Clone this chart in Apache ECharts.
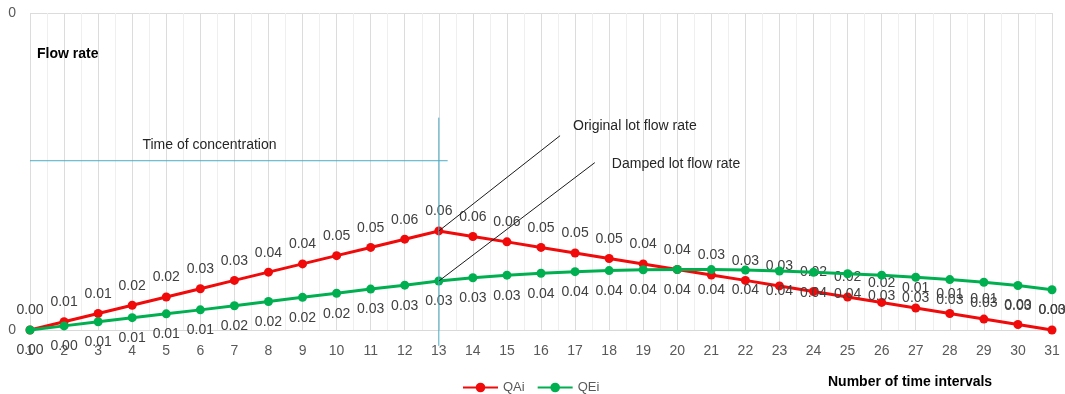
<!DOCTYPE html>
<html>
<head>
<meta charset="utf-8">
<script src="https://cdn.jsdelivr.net/npm/echarts@6/dist/echarts.min.js"></script>
<style>
  html, body { margin: 0; padding: 0; background: #fff; }
  #main { width: 1065px; height: 394px; }
</style>
</head>
<body>
<div id="main"></div>
<script>
// time interval numbers
const intervals = [1, 2, 3, 4, 5, 6, 7, 8, 9, 10, 11, 12, 13, 14, 15, 16,
  17, 18, 19, 20, 21, 22, 23, 24, 25, 26, 27, 28, 29, 30, 31];

// original lot flow rate
const qai = [0, 0.0052, 0.0104, 0.0156, 0.0208, 0.026, 0.0313, 0.0365, 0.0417,
  0.0469, 0.0521, 0.0573, 0.0625, 0.059, 0.0556, 0.0521, 0.0486, 0.0451, 0.0417,
  0.0382, 0.0347, 0.0313, 0.0278, 0.0243, 0.0208, 0.0174, 0.0139, 0.0104,
  0.0069, 0.0035, 0];

// damped lot flow rate
const qei = [0, 0.0026, 0.0052, 0.0078, 0.0102, 0.0127, 0.0153, 0.018, 0.0206,
  0.0232, 0.0258, 0.0283, 0.0309, 0.033, 0.0346, 0.0358, 0.0368, 0.0375, 0.038,
  0.0382, 0.0381, 0.0378, 0.0372, 0.0364, 0.0355, 0.0346, 0.0333, 0.0318,
  0.0301, 0.0281, 0.0254];

// annotation guides, in data space [interval, flow]
const concLine = [[13, 0.134], [13, -0.01]];
const concHoriz = [[1, 0.1068], [13.26, 0.1068]];
const origPointer = [[13, 0.0625], [16.56, 0.1226]];
const dampPointer = [[13, 0.0309], [17.58, 0.1056]];

const chart = echarts.init(document.getElementById('main'));

const font = 'Liberation Sans, Arial, sans-serif';
const red = '#f00a0a';
const green = '#00b050';
const blue = '#4bacc6';

let option = {
  animation: false,
  textStyle: { fontFamily: font },
  grid: { left: 30, right: 13, top: 13, bottom: 64 },
  legend: {
    left: 457,
    top: 376,
    itemWidth: 35,
    itemHeight: 12,
    itemGap: 12,
    textStyle: { fontSize: 13, color: '#595959', fontFamily: font },
    data: ['QAi', 'QEi']
  },
  xAxis: {
    type: 'value',
    min: 1,
    max: 31,
    interval: 1,
    axisLine: { lineStyle: { color: '#d9d9d9' } },
    axisTick: { show: false },
    axisLabel: { color: '#595959', fontSize: 14, margin: 14 },
    splitLine: { show: true, lineStyle: { color: '#dcdcdc' } },
    minorTick: { show: false, splitNumber: 2 },
    minorSplitLine: { show: true, lineStyle: { color: '#efefef' } }
  },
  yAxis: {
    type: 'value',
    min: 0,
    max: 0.2,
    interval: 0.2,
    axisLine: { show: false },
    axisTick: { show: false },
    axisLabel: { color: '#595959', fontSize: 14, margin: 14, formatter: v => v.toFixed(0) },
    splitLine: { lineStyle: { color: '#dcdcdc' } }
  },
  series: [
    {
      name: 'QAi',
      type: 'line',
      data: intervals.map((x, i) => [x, qai[i]]),
      symbol: 'circle',
      symbolSize: 9,
      lineStyle: { color: red, width: 3 },
      itemStyle: { color: red },
      label: {
        show: true, position: 'top', distance: 8,
        color: '#404040', fontSize: 14,
        formatter: p => p.value[1].toFixed(2)
      },
      z: 3
    },
    {
      name: 'QEi',
      type: 'line',
      data: intervals.map((x, i) => [x, qei[i]]),
      symbol: 'circle',
      symbolSize: 9,
      lineStyle: { color: green, width: 3 },
      itemStyle: { color: green },
      label: {
        show: true, position: 'bottom', distance: 9,
        color: '#404040', fontSize: 14,
        formatter: p => p.value[1].toFixed(2)
      },
      z: 4
    }
  ]
};

chart.setOption(option);

// annotations placed through the chart's own scales
const px = pt => chart.convertToPixel({ gridIndex: 0 }, pt);
const seg = (pts, color) => {
  const a = px(pts[0]), b = px(pts[1]);
  return {
    type: 'line', silent: true, z: 10,
    shape: { x1: a[0], y1: a[1], x2: b[0], y2: b[1] },
    style: { stroke: color, lineWidth: 1 }
  };
};
const txt = (pt, text, style) => {
  const p = px(pt);
  return {
    type: 'text', silent: true, z: 10, x: p[0], y: p[1],
    style: Object.assign({ text: text, fill: '#262626', font: '14px ' + font, textVerticalAlign: 'middle' }, style || {})
  };
};

chart.setOption({
  graphic: [
    seg(concLine, blue),
    seg(concHoriz, blue),
    seg(origPointer, '#1a1a1a'),
    seg(dampPointer, '#1a1a1a'),
    txt([4.3, 0.1165], 'Time of concentration'),
    txt([16.94, 0.1285], 'Original lot flow rate'),
    txt([18.08, 0.1045], 'Damped lot flow rate'),
    { type: 'text', silent: true, left: 37, top: 47,
      style: { text: 'Flow rate', fill: '#000', font: 'bold 14px ' + font } },
    { type: 'text', silent: true, left: 828, top: 375,
      style: { text: 'Number of time intervals', fill: '#000', font: 'bold 14px ' + font } }
  ]
});
</script>
</body>
</html>
